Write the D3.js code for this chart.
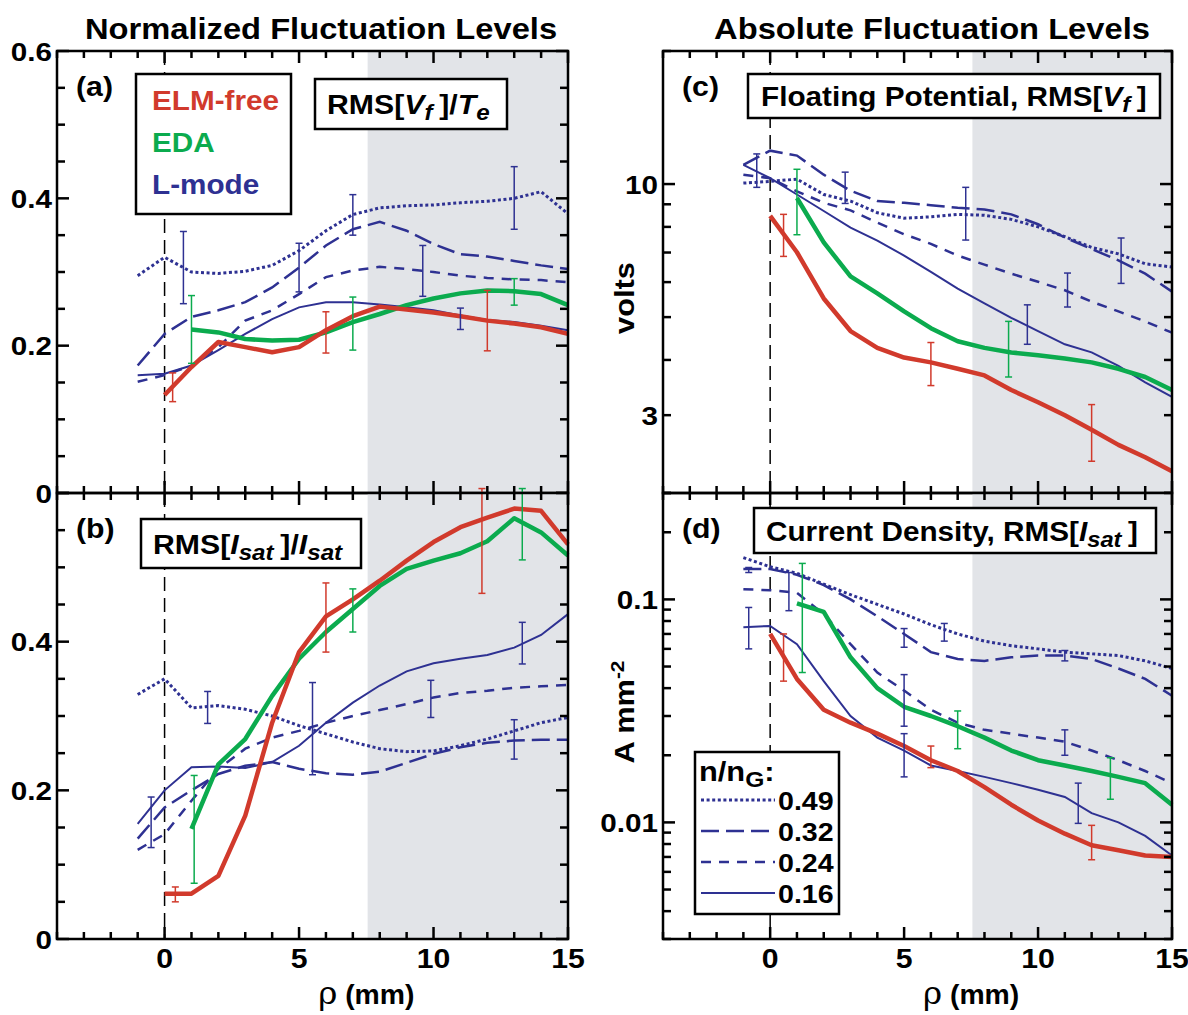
<!DOCTYPE html>
<html>
<head>
<meta charset="utf-8">
<script src="https://cdn.jsdelivr.net/npm/d3@7"></script>
<style>
body { margin: 0; background: #fff; }
text { font-family: "Liberation Sans", Arial, sans-serif; font-weight: bold; }
</style>
</head>
<body>
<svg id="chart" width="1188" height="1015"></svg>
<script>
// radial positions (mm)
var rhoL = [-1, 0, 1, 2, 3, 4, 5, 6, 7, 8, 9, 10, 11, 12, 13, 14, 15];
var rhoH = [0, 1, 2, 3, 4, 5, 6, 7, 8, 9, 10, 11, 12, 13, 14, 15];
var rhoE = [1, 2, 3, 4, 5, 6, 7, 8, 9, 10, 11, 12, 13, 14, 15];

// (a) RMS[Vf]/Te
var aDot   = [0.295, 0.32, 0.30, 0.298, 0.301, 0.309, 0.329, 0.356, 0.378, 0.387, 0.39, 0.391, 0.394, 0.396, 0.40, 0.409, 0.379];
var aLong  = [0.173, 0.216, 0.239, 0.248, 0.259, 0.279, 0.306, 0.336, 0.358, 0.368, 0.356, 0.338, 0.324, 0.321, 0.315, 0.309, 0.304];
var aShort = [0.151, 0.160, 0.173, 0.198, 0.234, 0.248, 0.27, 0.293, 0.302, 0.307, 0.304, 0.30, 0.295, 0.292, 0.29, 0.289, 0.286];
var aSolid = [0.16, 0.162, 0.173, 0.194, 0.216, 0.236, 0.252, 0.259, 0.259, 0.256, 0.252, 0.248, 0.241, 0.235, 0.232, 0.227, 0.221];
var aELM   = [0.133, 0.171, 0.205, 0.198, 0.191, 0.198, 0.221, 0.24, 0.253, 0.249, 0.245, 0.24, 0.234, 0.23, 0.225, 0.216];
var aEDA   = [0.222, 0.218, 0.209, 0.207, 0.208, 0.218, 0.232, 0.243, 0.255, 0.264, 0.271, 0.275, 0.274, 0.27, 0.255];
var aErrL  = [[0.7, 0.257, 0.355], [5.0, 0.273, 0.339], [7.0, 0.35, 0.405], [9.6, 0.267, 0.336], [11.0, 0.222, 0.251], [13.0, 0.358, 0.443]];
var aErrH  = [[0.3, 0.124, 0.163], [6.0, 0.19, 0.246], [12.0, 0.193, 0.275]];
var aErrE  = [[1.0, 0.176, 0.268], [7.0, 0.194, 0.266], [13.0, 0.255, 0.291]];

// (b) RMS[Isat]/Isat
var bDot   = [0.329, 0.35, 0.311, 0.314, 0.309, 0.30, 0.287, 0.276, 0.265, 0.256, 0.252, 0.253, 0.26, 0.269, 0.28, 0.291, 0.298];
var bLong  = [0.135, 0.177, 0.20, 0.222, 0.233, 0.238, 0.229, 0.223, 0.221, 0.225, 0.237, 0.249, 0.258, 0.264, 0.267, 0.268, 0.268];
var bShort = [0.12, 0.141, 0.186, 0.229, 0.256, 0.271, 0.28, 0.291, 0.30, 0.308, 0.316, 0.325, 0.331, 0.334, 0.338, 0.34, 0.342];
var bSolid = [0.155, 0.20, 0.231, 0.232, 0.23, 0.238, 0.26, 0.291, 0.318, 0.341, 0.36, 0.371, 0.377, 0.382, 0.392, 0.409, 0.437];
var bELM   = [0.061, 0.061, 0.085, 0.166, 0.291, 0.386, 0.434, 0.457, 0.482, 0.509, 0.534, 0.554, 0.567, 0.579, 0.576, 0.531];
var bEDA   = [0.148, 0.235, 0.269, 0.327, 0.377, 0.413, 0.444, 0.475, 0.498, 0.509, 0.519, 0.535, 0.566, 0.547, 0.516];
var bErrL  = [[-0.5, 0.123, 0.191], [1.6, 0.29, 0.333], [5.5, 0.221, 0.345], [9.9, 0.298, 0.348], [13.3, 0.37, 0.426], [13.0, 0.242, 0.295]];
var bErrH  = [[0.4, 0.05, 0.07], [6.0, 0.386, 0.479], [11.8, 0.465, 0.606]];
var bErrE  = [[1.1, 0.075, 0.22], [7.0, 0.413, 0.471], [13.3, 0.51, 0.606]];

// (c) floating potential, volts
var cDot   = [10.05, 10.14, 10.26, 9.47, 9.15, 8.61, 8.37, 8.43, 8.54, 8.5, 8.32, 8.0, 7.6, 7.19, 6.95, 6.6, 6.49];
var cLong  = [11.05, 11.9, 11.6, 10.5, 9.66, 9.15, 9.07, 8.96, 8.84, 8.76, 8.54, 8.11, 7.57, 7.13, 6.72, 6.27, 5.71];
var cShort = [10.5, 10.31, 9.63, 9.07, 8.72, 8.18, 7.7, 7.32, 6.89, 6.57, 6.27, 6.01, 5.75, 5.42, 5.15, 4.89, 4.61];
var cSolid = [11.05, 10.31, 9.47, 8.69, 7.97, 7.45, 6.89, 6.33, 5.8, 5.37, 4.98, 4.65, 4.34, 4.16, 3.88, 3.56, 3.3];
var cELM   = [8.47, 7.01, 5.51, 4.65, 4.26, 4.05, 3.95, 3.82, 3.69, 3.42, 3.21, 3.0, 2.78, 2.57, 2.41, 2.24];
var cEDA   = [9.3, 7.38, 6.18, 5.66, 5.15, 4.72, 4.41, 4.26, 4.16, 4.1, 4.03, 3.95, 3.82, 3.66, 3.42];
var cErrL  = [[-0.5, 9.83, 11.7], [2.8, 9.04, 10.64], [7.3, 7.47, 9.83], [9.6, 4.34, 5.33], [11.1, 5.27, 6.29], [13.1, 5.96, 7.55]];
var cErrH  = [[0.5, 6.86, 8.54], [6.0, 3.5, 4.38], [12.0, 2.36, 3.17]];
var cErrE  = [[1.0, 7.68, 10.8], [8.9, 3.66, 4.89]];

// (d) current density, A mm^-2
var dDot   = [0.154, 0.140, 0.131, 0.117, 0.105, 0.095, 0.086, 0.077, 0.070, 0.065, 0.062, 0.060, 0.058, 0.057, 0.056, 0.053, 0.049];
var dLong  = [0.137, 0.137, 0.129, 0.116, 0.100, 0.084, 0.070, 0.058, 0.054, 0.053, 0.055, 0.056, 0.056, 0.054, 0.049, 0.044, 0.037];
var dShort = [0.111, 0.110, 0.107, 0.086, 0.063, 0.047, 0.039, 0.032, 0.028, 0.026, 0.025, 0.024, 0.023, 0.021, 0.019, 0.017, 0.015];
var dSolid = [0.075, 0.076, 0.063, 0.043, 0.030, 0.024, 0.021, 0.018, 0.017, 0.016, 0.015, 0.014, 0.013, 0.011, 0.010, 0.0087, 0.0071];
var dELM   = [0.070, 0.044, 0.032, 0.028, 0.025, 0.022, 0.019, 0.017, 0.0144, 0.012, 0.0102, 0.0089, 0.0079, 0.0075, 0.0071, 0.0070];
var dEDA   = [0.096, 0.088, 0.055, 0.040, 0.033, 0.030, 0.027, 0.024, 0.021, 0.019, 0.018, 0.017, 0.016, 0.015, 0.012];
var dErrL  = [[-0.8, 0.132, 0.139], [-0.8, 0.060, 0.092], [0.7, 0.089, 0.132], [5.0, 0.061, 0.074], [5.0, 0.027, 0.046],
              [5.0, 0.016, 0.025], [6.5, 0.065, 0.078], [11.0, 0.053, 0.059], [11.0, 0.020, 0.026], [11.5, 0.0099, 0.015]];
var dErrH  = [[0.5, 0.043, 0.070], [6.0, 0.0176, 0.022], [12.0, 0.0068, 0.0097]];
var dErrE  = [[1.2, 0.047, 0.145], [7.0, 0.0214, 0.0316], [12.7, 0.0127, 0.0195]];

var xTickLabels = [0, 5, 10, 15];
var linTickLabels = [0, 0.2, 0.4, 0.6];
var cTickLabels = [3, 10];
var dTickLabels = [0.01, 0.1];
var densities = ["0.49", "0.32", "0.24", "0.16"];
var regimes = ["ELM-free", "EDA", "L-mode"];

var RED = "#d13a2c", GREEN = "#0bab4e", BLUE = "#2e3192";
var styles = {
  dot:   { w: 3,   dash: "3,2.6" },
  long:  { w: 2.5, dash: "18,7" },
  short: { w: 2.5, dash: "10,8" },
  solid: { w: 2,   dash: null }
};

var svg = d3.select("#chart");

// text stretched a little horizontally, like the original figure's lettering
function T(g, x, y, size, sx) {
  return g.append("text")
    .attr("transform", "translate(" + x + "," + y + ") scale(" + (sx || 1.1) + ",1)")
    .attr("font-size", size);
}

var panels = [
  { id: "a", x0: 57, x1: 568, y0: 51, y1: 493, log: false, dom: [0, 0.6], labels: linTickLabels, fmt: function(d) { return d === 0 ? "0" : d3.format(".1f")(d); },
    blue: [aDot, aLong, aShort, aSolid], elm: aELM, eda: aEDA, errL: aErrL, errH: aErrH, errE: aErrE },
  { id: "b", x0: 57, x1: 568, y0: 493, y1: 939, log: false, dom: [0, 0.6], labels: [0, 0.2, 0.4], fmt: function(d) { return d === 0 ? "0" : d3.format(".1f")(d); },
    blue: [bDot, bLong, bShort, bSolid], elm: bELM, eda: bEDA, errL: bErrL, errH: bErrH, errE: bErrE, xaxis: true },
  { id: "c", x0: 663, x1: 1172, y0: 51, y1: 493, log: true, dom: [2, 20], labels: cTickLabels, fmt: String,
    blue: [cDot, cLong, cShort, cSolid], elm: cELM, eda: cEDA, errL: cErrL, errH: cErrH, errE: cErrE },
  { id: "d", x0: 663, x1: 1172, y0: 493, y1: 939, log: true, dom: [0.003, 0.3], labels: dTickLabels, fmt: String,
    blue: [dDot, dLong, dShort, dSolid], elm: dELM, eda: dEDA, errL: dErrL, errH: dErrH, errE: dErrE, xaxis: true }
];

panels.forEach(function(p) {
  var x = d3.scaleLinear().domain([-4, 15]).range([p.x0, p.x1]);
  var y = (p.log ? d3.scaleLog() : d3.scaleLinear()).domain(p.dom).range([p.y1, p.y0]);
  var g = svg.append("g");

  // shaded SOL region
  g.append("rect")
    .attr("x", x(7.55)).attr("y", p.y0)
    .attr("width", x(15) - x(7.55)).attr("height", p.y1 - p.y0)
    .attr("fill", "#e2e4e8");

  // separatrix
  g.append("line")
    .attr("x1", x(0)).attr("x2", x(0)).attr("y1", p.y0).attr("y2", p.y1)
    .attr("stroke", "#000").attr("stroke-width", 1.5).attr("stroke-dasharray", "14,7");

  var line = d3.line().x(function(d) { return x(d[0]); }).y(function(d) { return y(d[1]); });
  var keys = ["dot", "long", "short", "solid"];
  p.blue.forEach(function(s, i) {
    g.append("path")
      .attr("d", line(d3.zip(rhoL, s)))
      .attr("fill", "none").attr("stroke", BLUE)
      .attr("stroke-width", styles[keys[i]].w)
      .attr("stroke-dasharray", styles[keys[i]].dash);
  });
  g.append("path").attr("d", line(d3.zip(rhoE, p.eda)))
    .attr("fill", "none").attr("stroke", GREEN).attr("stroke-width", 4.5).attr("stroke-linejoin", "round");
  g.append("path").attr("d", line(d3.zip(rhoH, p.elm)))
    .attr("fill", "none").attr("stroke", RED).attr("stroke-width", 4.5).attr("stroke-linejoin", "round");

  function errs(list, col) {
    list.forEach(function(e) {
      var cx = x(e[0]);
      g.append("line").attr("x1", cx).attr("x2", cx).attr("y1", y(e[1])).attr("y2", y(e[2]))
        .attr("stroke", col).attr("stroke-width", 1.5);
      [e[1], e[2]].forEach(function(v) {
        g.append("line").attr("x1", cx - 3.5).attr("x2", cx + 3.5).attr("y1", y(v)).attr("y2", y(v))
          .attr("stroke", col).attr("stroke-width", 1.5);
      });
    });
  }
  errs(p.errL, BLUE);
  errs(p.errH, RED);
  errs(p.errE, GREEN);

  // frame
  g.append("rect")
    .attr("x", p.x0).attr("y", p.y0).attr("width", p.x1 - p.x0).attr("height", p.y1 - p.y0)
    .attr("fill", "none").attr("stroke", "#000").attr("stroke-width", 2.5);

  // x ticks, inward on top and bottom
  d3.range(-4, 16).forEach(function(v) {
    var len = v % 5 === 0 ? 12 : 7;
    g.append("line").attr("x1", x(v)).attr("x2", x(v)).attr("y1", p.y1).attr("y2", p.y1 - len)
      .attr("stroke", "#000").attr("stroke-width", 2.5);
    g.append("line").attr("x1", x(v)).attr("x2", x(v)).attr("y1", p.y0).attr("y2", p.y0 + len)
      .attr("stroke", "#000").attr("stroke-width", 2.5);
  });

  // y ticks, inward on left and right
  var yt = [];
  if (p.log) {
    d3.range(-3, 2).forEach(function(e) {
      d3.range(1, 10).forEach(function(k) {
        var v = k * Math.pow(10, e);
        if (v >= p.dom[0] * 0.999 && v <= p.dom[1] * 1.001) yt.push([v, k === 1]);
      });
    });
  } else {
    d3.range(0, 13).forEach(function(i) { yt.push([i * 0.05, i % 4 === 0]); });
  }
  yt.forEach(function(t) {
    var len = t[1] ? 12 : 8;
    g.append("line").attr("x1", p.x0).attr("x2", p.x0 + len).attr("y1", y(t[0])).attr("y2", y(t[0]))
      .attr("stroke", "#000").attr("stroke-width", 2.5);
    g.append("line").attr("x1", p.x1).attr("x2", p.x1 - len).attr("y1", y(t[0])).attr("y2", y(t[0]))
      .attr("stroke", "#000").attr("stroke-width", 2.5);
  });

  // y tick labels
  p.labels.forEach(function(d) {
    T(g, p.x0 - 5, y(d) + 9.5, 26, 1.14).attr("text-anchor", "end").text(p.fmt(d));
  });

  if (p.xaxis) {
    xTickLabels.forEach(function(d) {
      T(g, x(d), 968, 27, 1.12).attr("text-anchor", "middle").text(d);
    });
    var xt = T(g, (x(0) + x(15)) / 2, 1004, 27, 1.05).attr("text-anchor", "middle");
    xt.append("tspan").attr("font-family", "DejaVu Serif, serif").attr("font-weight", "normal").attr("font-size", 31).text("ρ");
    xt.append("tspan").text(" (mm)");
  }

  T(g, p.x0 + 19, p.y0 + 45, 27, 1.12).text("(" + p.id + ")");
  p.g = g;
});

function box(g, x0, y0, w, h) {
  g.append("rect").attr("x", x0).attr("y", y0).attr("width", w).attr("height", h)
    .attr("fill", "#fff").attr("stroke", "#000").attr("stroke-width", 2.5);
}

// rich label: parts of [text, italic, sub]
function rich(g, x0, y0, parts, size, sx) {
  var t = T(g, x0, y0, size, sx);
  parts.forEach(function(q) {
    var s = t.append("tspan").text(q[0]);
    if (q[1]) s.attr("font-style", "italic");
    if (q[2]) s.attr("font-size", size * 0.8).attr("baseline-shift", "-25%");
  });
  return t;
}

// (a) regime legend and quantity label
var ga = panels[0].g;
box(ga, 136, 74, 155, 140);
[RED, GREEN, BLUE].forEach(function(c, i) {
  T(ga, 152, 110 + i * 42, 27, 1.1).attr("fill", c).text(regimes[i]);
});
box(ga, 315, 79, 192, 50);
rich(ga, 327, 114, [["RMS["], ["V", true], ["f ", true, true], ["]/"], ["T", true], ["e", true, true]], 27, 1.12);

var gb = panels[1].g;
box(gb, 141, 519, 220, 49);
rich(gb, 153, 554, [["RMS["], ["I", true], ["sat ", true, true], ["]/"], ["I", true], ["sat", true, true]], 27, 1.12);

var gc = panels[2].g;
box(gc, 748, 74, 412, 44);
rich(gc, 761, 106, [["Floating Potential, RMS["], ["V", true], ["f ", true, true], ["]"]], 27, 1.1);

var gd = panels[3].g;
box(gd, 754, 508, 402, 45);
rich(gd, 766, 541, [["Current Density, RMS["], ["I", true], ["sat ", true, true], ["]"]], 27, 1.1);

// density legend
box(gd, 695, 752, 144, 162);
rich(gd, 699, 781, [["n/n"], ["G", false, true], [":"]], 28, 1.1);
["dot", "long", "short", "solid"].forEach(function(k, i) {
  var yy = 800 + i * 31;
  gd.append("line").attr("x1", 701).attr("x2", 775).attr("y1", yy).attr("y2", yy)
    .attr("stroke", BLUE).attr("stroke-width", styles[k].w).attr("stroke-dasharray", styles[k].dash);
  T(gd, 778, yy + 10, 26, 1.1).text(densities[i]);
});

// titles
T(svg, 321, 39, 30, 1.09).attr("text-anchor", "middle").text("Normalized Fluctuation Levels");
T(svg, 932, 39, 30, 1.09).attr("text-anchor", "middle").text("Absolute Fluctuation Levels");

// y titles
svg.append("text").attr("transform", "translate(634,298) rotate(-90) scale(1.1,1)").attr("text-anchor", "middle")
  .attr("font-size", 28).text("volts");
var ya = svg.append("text").attr("transform", "translate(634,712) rotate(-90) scale(1.1,1)").attr("text-anchor", "middle")
  .attr("font-size", 28);
ya.append("tspan").text("A mm");
ya.append("tspan").attr("font-size", 19).attr("baseline-shift", "super").text("-2");
</script>
</body>
</html>
